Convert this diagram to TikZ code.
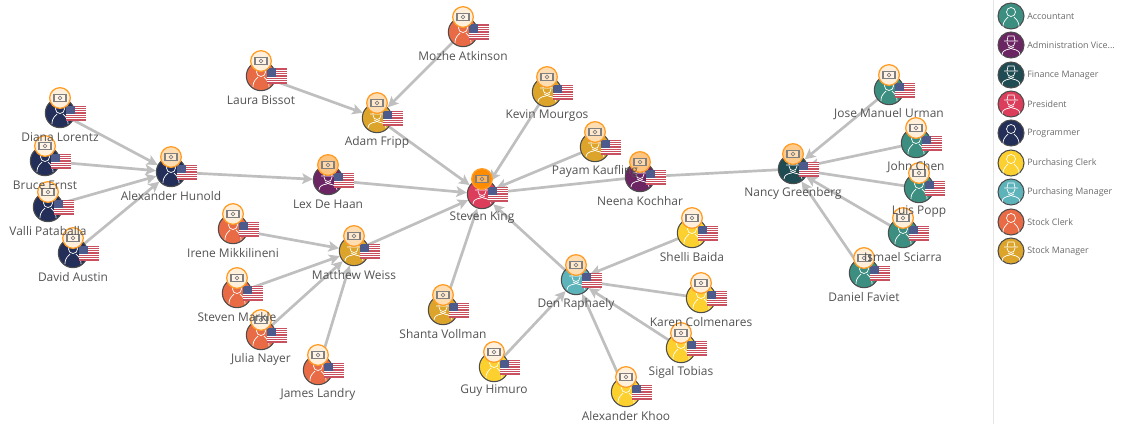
\documentclass[tikz,border=0pt]{standalone}
\usepackage{fontspec}
\usepackage{xcolor}
\usepackage{tikz}
\usetikzlibrary{arrows.meta,backgrounds}
\setmainfont{Open Sans}

\definecolor{colAccountant}{HTML}{3C8F80}
\definecolor{colAdminVice}{HTML}{6B2563}
\definecolor{colFinance}{HTML}{1F4B52}
\definecolor{colPresident}{HTML}{DC3D5B}
\definecolor{colProgrammer}{HTML}{232F58}
\definecolor{colPurchClerk}{HTML}{FBD02F}
\definecolor{colPurchManager}{HTML}{5DB3BA}
\definecolor{colStockClerk}{HTML}{E96B45}
\definecolor{colStockManager}{HTML}{DCA42A}
\definecolor{badgeOrange}{HTML}{FF8C00}
\definecolor{flagRed}{HTML}{C9505F}
\definecolor{flagBlue}{HTML}{4C5A8C}

\pgfdeclarelayer{labels}
\pgfsetlayers{background,main,labels}

\tikzset{
    personnode/.style={circle, draw=black!70, line width=0.9pt, minimum size=0.88cm, inner sep=0pt},
    legendnode/.style={circle, draw=black!70, line width=0.9pt, minimum size=0.78cm, inner sep=0pt},
    badgenode/.style={circle, draw=badgeOrange!85, line width=1.1pt, minimum size=0.62cm, inner sep=0pt},
    namelabel/.style={text=black!68, font=\fontsize{10.2}{12}\selectfont, inner sep=0pt},
    legendlabel/.style={text=black!58, font=\fontsize{7.6}{9}\selectfont, anchor=west, inner sep=0pt},
    edgeline/.style={draw=black!25, line width=2.3pt, -{Stealth[length=9pt,width=9pt,inset=2pt]}},
    plainicon/.pic={
        \draw[white, line width=0.6pt] (0,-4) circle (4.5);
        \draw[white, line width=0.6pt] (-8,11) .. controls (-8,4) and (-4,3) .. (-3,1);
        \draw[white, line width=0.6pt] (8,11) .. controls (8,4) and (4,3) .. (3,1);
    },
    haticon/.pic={
        \draw[white, line width=0.6pt] (-7,-4) -- (7,-4) (-4,-4) -- (-3,-9) -- (3,-9) -- (4,-4);
        \draw[white, line width=0.6pt] (-4,-3) .. controls (-4,3) and (4,3) .. (4,-3);
        \draw[white, line width=0.6pt] (-9,10) .. controls (-8,3) and (-3,6) .. (3,2);
        \draw[white, line width=0.6pt] (9,10) .. controls (8,3) and (3,6) .. (-3,2);
    },
    usflag/.pic={
        \fill[white] (-10,-7.5) rectangle (10,7.5);
        \foreach \s in {0,2,4,6,8,10,12} {
            \fill[flagRed] (-10,-7.5+\s*1.154) rectangle (10,-7.5+\s*1.154+1.154);
        }
        \fill[flagBlue] (-10,-7.5) rectangle (-1.5,0.6);
    },
    moneyicon/.pic={
        \draw[black!50, fill=white, fill opacity=0.35, line width=1pt] (-6,-3.7) rectangle (6,3.7);
        \draw[black!50, line width=0.7pt] (0,0) circle (1.9);
    }
}

\begin{document}
\begin{tikzpicture}[x=0.03cm, y=-0.03cm]
    \useasboundingbox (0,0) rectangle (1129,424);
    % Employees
    \foreach \name/\x/\y/\col/\icon/\tint/\lab in {
        diana/60/113/colProgrammer/plainicon/14/Diana Lorentz,
        bruce/45/161/colProgrammer/plainicon/14/Bruce Ernst,
        valli/48/207/colProgrammer/plainicon/14/Valli Pataballa,
        david/73/253/colProgrammer/plainicon/14/David Austin,
        hunold/171/172/colProgrammer/plainicon/30/Alexander Hunold,
        lex/328/180/colAdminVice/haticon/50/Lex De Haan,
        laura/261/76/colStockClerk/plainicon/14/Laura Bissot,
        fripp/377/118/colStockManager/haticon/30/Adam Fripp,
        mozhe/463/32/colStockClerk/plainicon/14/Mozhe Atkinson,
        kevin/547/92/colStockManager/haticon/30/Kevin Mourgos,
        payam/595/147/colStockManager/haticon/30/Payam Kaufling,
        neena/640/177/colAdminVice/haticon/50/Neena Kochhar,
        king/482/194/colPresident/haticon/100/Steven King,
        irene/233/229/colStockClerk/plainicon/14/Irene Mikkilineni,
        weiss/354/251/colStockManager/haticon/30/Matthew Weiss,
        markle/237/293/colStockClerk/plainicon/14/Steven Markle,
        julia/261/335/colStockClerk/plainicon/14/Julia Nayer,
        james/318/370/colStockClerk/plainicon/14/James Landry,
        shanta/443/310/colStockManager/haticon/30/Shanta Vollman,
        guy/494/367/colPurchClerk/plainicon/14/Guy Himuro,
        den/576/280/colPurchManager/haticon/30/Den Raphaely,
        shelli/692/233/colPurchClerk/plainicon/14/Shelli Baida,
        karen/701/298/colPurchClerk/plainicon/14/Karen Colmenares,
        sigal/681/348/colPurchClerk/plainicon/14/Sigal Tobias,
        khoo/626/392/colPurchClerk/plainicon/14/Alexander Khoo,
        nancy/793/169/colFinance/haticon/45/Nancy Greenberg,
        jose/889/90/colAccountant/plainicon/14/Jose Manuel Urman,
        chen/916/143/colAccountant/plainicon/14/John Chen,
        popp/919/188/colAccountant/plainicon/14/Luis Popp,
        sciarra/903/233/colAccountant/plainicon/14/Ismael Sciarra,
        faviet/864/273/colAccountant/plainicon/14/Daniel Faviet} {
        \node[personnode, fill=\col] (\name) at (\x,\y) {};
        \pic at (\x,\y) {\icon};
        \pic at (\x+16,\y) {usflag};
        \node[badgenode, fill=badgeOrange!\tint] (\name-badge) at (\x,\y-15) {};
        \pic at (\x,\y-15) {moneyicon};
        \begin{pgfonlayer}{labels}
            \node[namelabel] (\name-label) at (\x,\y+24) {\lab};
        \end{pgfonlayer}
    }
    % Reporting lines
    \begin{scope}[on background layer]
        \foreach \from/\to in {diana/hunold, bruce/hunold, valli/hunold, david/hunold,
            hunold/lex, lex/king, laura/fripp, mozhe/fripp, fripp/king, kevin/king,
            payam/king, neena/king, irene/weiss, markle/weiss, julia/weiss, james/weiss,
            weiss/king, shanta/king, den/king, guy/den, shelli/den, karen/den, sigal/den,
            khoo/den, nancy/neena, jose/nancy, chen/nancy, popp/nancy, sciarra/nancy,
            faviet/nancy} {
            \draw[edgeline] (\from) -- (\to);
        }
    \end{scope}
    % Legend
    \draw[black!10, line width=0.7pt] (993,0) -- (993,424);
    \foreach \name/\y/\col/\icon/\lab in {
        accountant/16/colAccountant/plainicon/Accountant,
        adminvice/45/colAdminVice/haticon/{Administration Vice...},
        finance/75/colFinance/haticon/Finance Manager,
        president/104/colPresident/haticon/President,
        programmer/133/colProgrammer/plainicon/Programmer,
        purchclerk/163/colPurchClerk/plainicon/Purchasing Clerk,
        purchmanager/192/colPurchManager/haticon/Purchasing Manager,
        stockclerk/222/colStockClerk/plainicon/Stock Clerk,
        stockmanager/251/colStockManager/haticon/Stock Manager} {
        \node[legendnode, fill=\col] (\name) at (1011,\y) {};
        \pic at (1011,\y) {\icon};
        \node[legendlabel] (\name-label) at (1027,\y) {\lab};
    }
\end{tikzpicture}
\end{document}
